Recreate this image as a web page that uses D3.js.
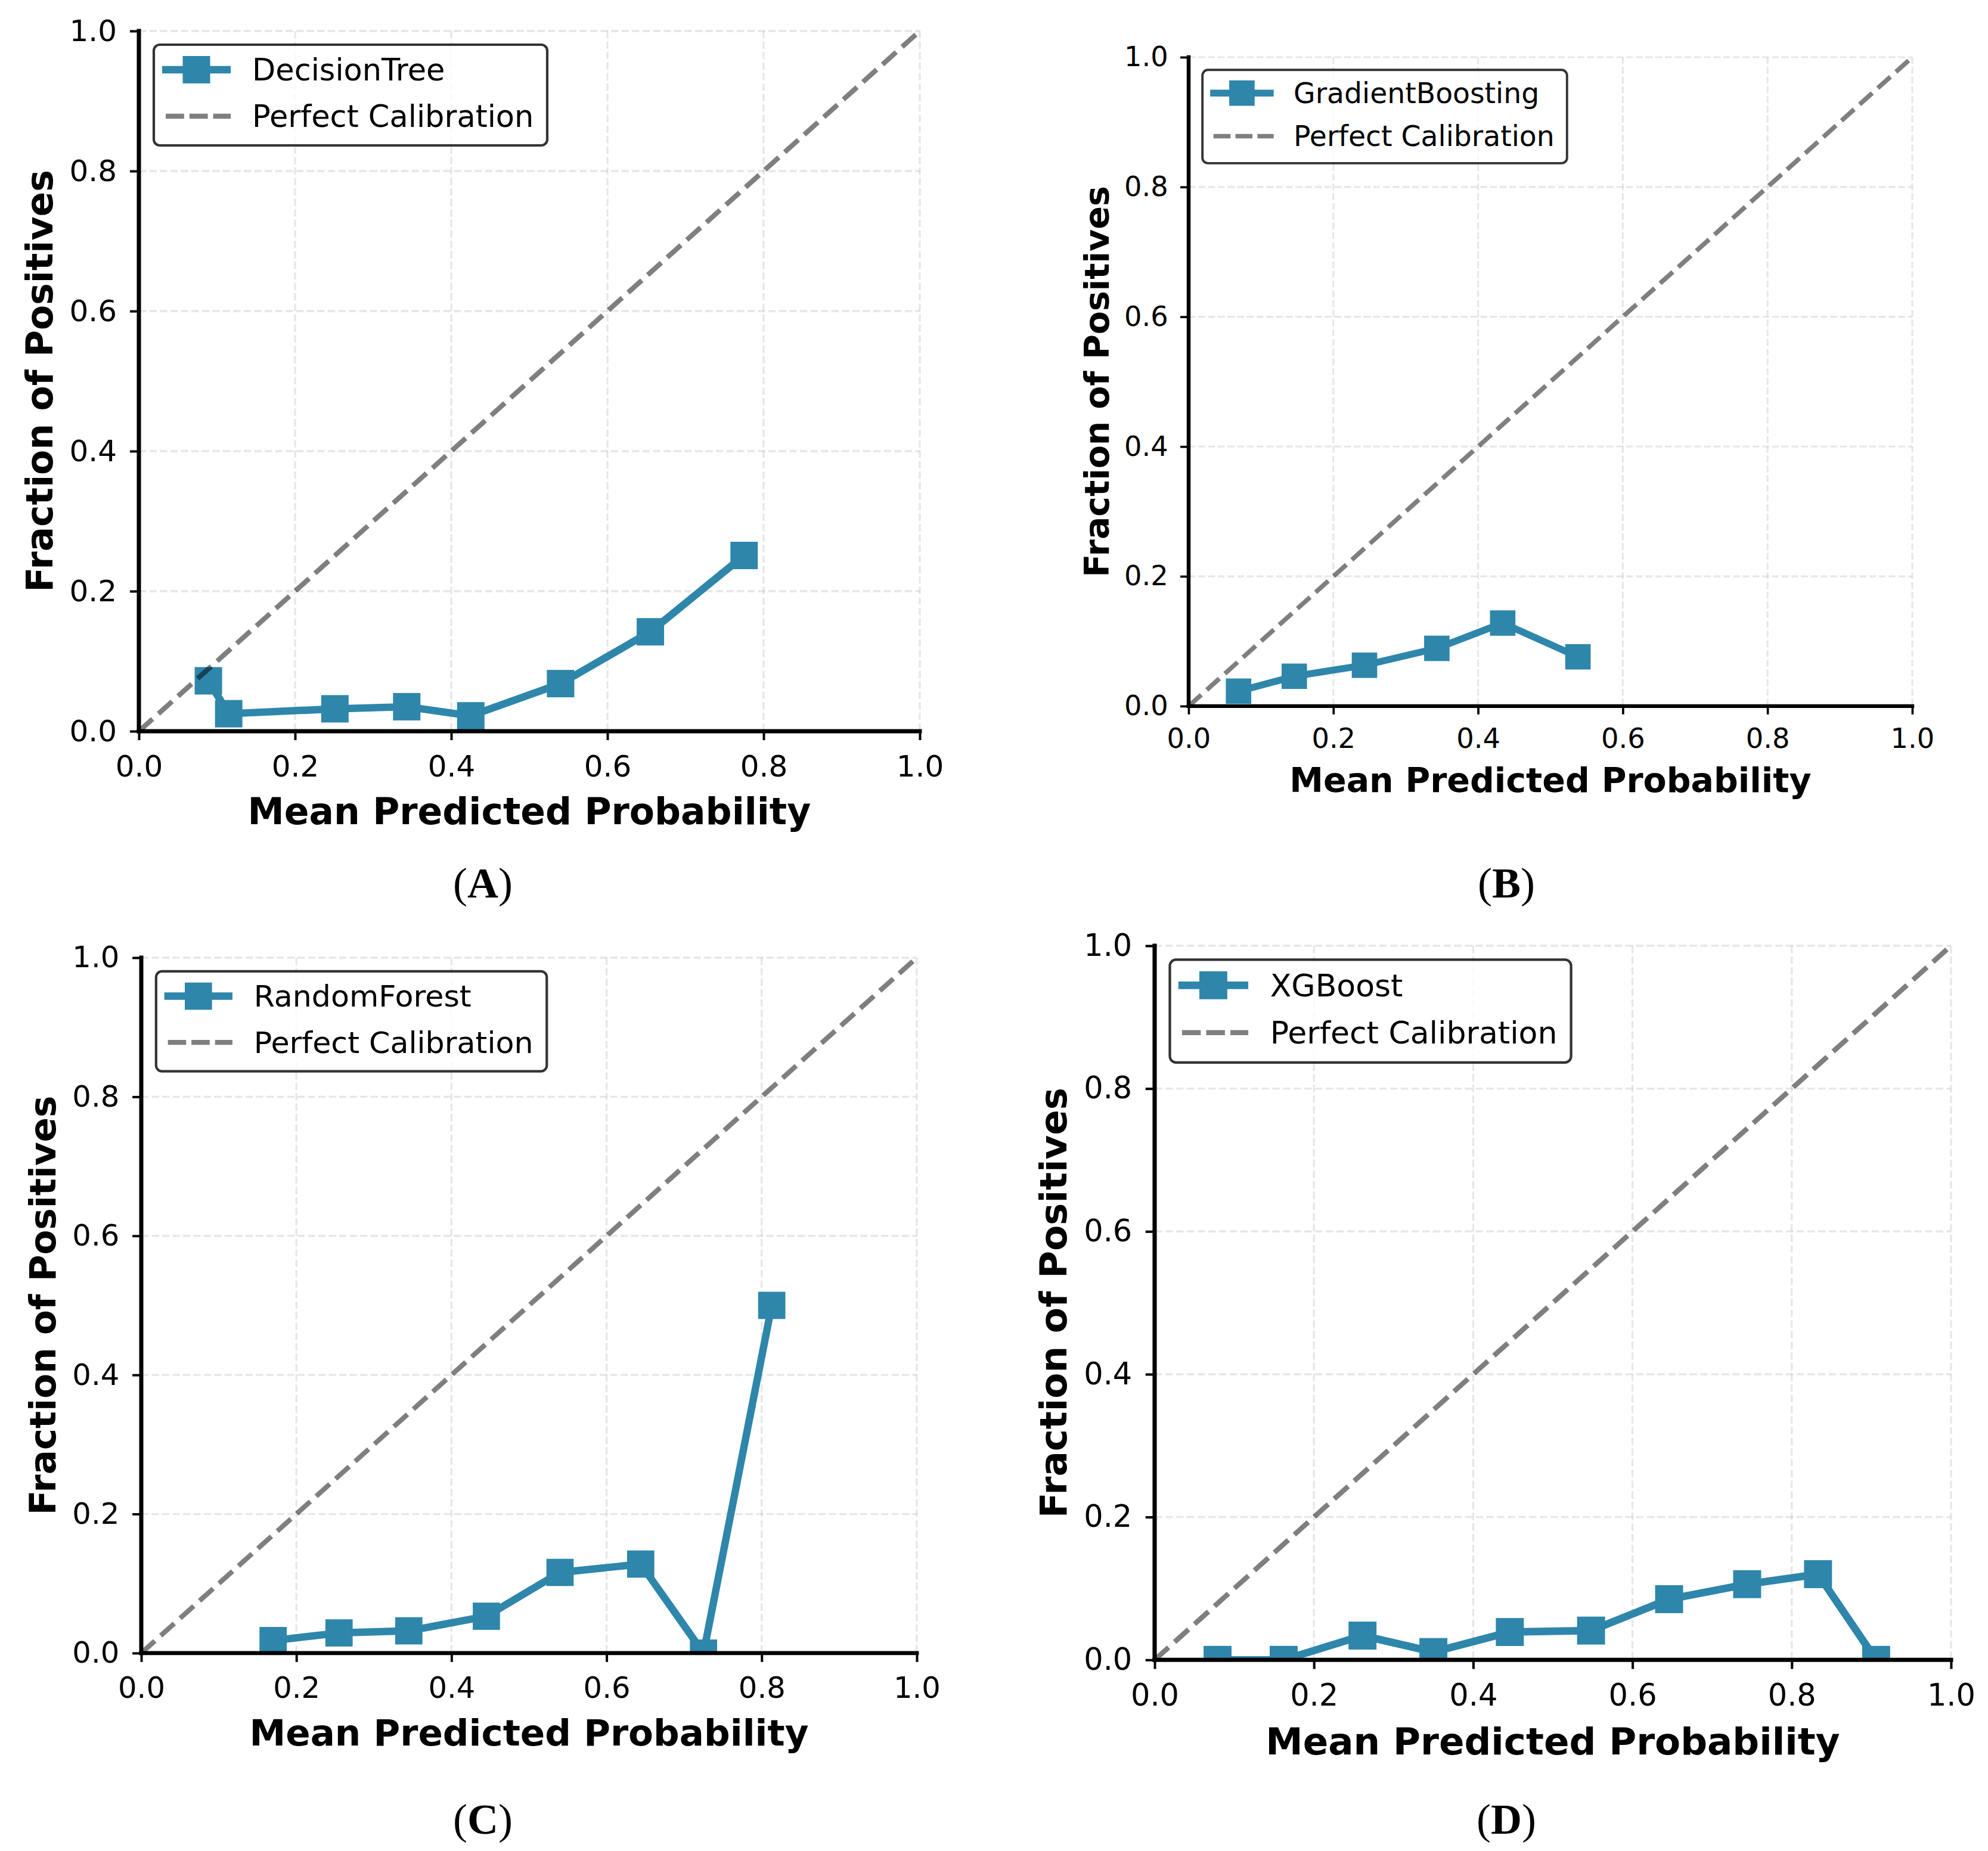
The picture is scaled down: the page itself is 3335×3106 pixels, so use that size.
<!DOCTYPE html>
<html lang="en">
    <head>
        <meta charset="utf-8">
        <title>Calibration Curves</title>
        <script type="text/javascript" src="https://d3js.org/d3.v7.min.js"></script>
        <style type="text/css">
            body {
                margin: 0;
                background: #ffffff;
            }
            .tick text {
                font-family: "DejaVu Sans", sans-serif;
                font-size: 50px;
                fill: #000000;
            }
            .axis-title {
                font-family: "DejaVu Sans", sans-serif;
                font-size: 61.5px;
                font-weight: bold;
                fill: #000000;
            }
            .legend-text {
                font-family: "DejaVu Sans", sans-serif;
                font-size: 51px;
                fill: #000000;
            }
            .caption {
                font-family: "Liberation Serif", "Times New Roman", serif;
                font-size: 72px;
                fill: #000000;
            }
        </style>
    </head>

    <body>
        <script type="text/javascript">

            // page size
            const svgW = 3335;
            const svgH = 3106;

            // data: tick values and calibration bins for each model
            const probTicks = [0, 0.2, 0.4, 0.6, 0.8, 1.0];
            const models = ["DecisionTree", "GradientBoosting", "RandomForest", "XGBoost"];
            const panelLetters = ["A", "B", "C", "D"];
            const refLabel = "Perfect Calibration";

            const dtMeanPred = [0.089, 0.115, 0.251, 0.343, 0.425, 0.540, 0.655, 0.775];
            const dtFracPos  = [0.072, 0.025, 0.032, 0.035, 0.022, 0.068, 0.142, 0.251];

            const gbMeanPred = [0.069, 0.146, 0.243, 0.343, 0.434, 0.538];
            const gbFracPos  = [0.023, 0.046, 0.063, 0.089, 0.128, 0.076];

            const rfMeanPred = [0.170, 0.255, 0.345, 0.445, 0.540, 0.644, 0.725, 0.813];
            const rfFracPos  = [0.018, 0.029, 0.032, 0.053, 0.116, 0.128, 0.000, 0.500];

            const xgbMeanPred = [0.079, 0.162, 0.261, 0.350, 0.446, 0.548, 0.646, 0.744, 0.833, 0.906];
            const xgbFracPos  = [0.000, 0.000, 0.034, 0.011, 0.039, 0.041, 0.085, 0.106, 0.120, 0.000];

            const meanPred = [dtMeanPred, gbMeanPred, rfMeanPred, xgbMeanPred];
            const fracPos = [dtFracPos, gbFracPos, rfFracPos, xgbFracPos];

            // layout: every panel is the same figure, just placed and scaled
            const W = 1310;
            const H = 1175;
            const layout = [
                {left: 233,  top: 52,   k: 1.0,    capX: 810,  capY: 1506},
                {left: 1994, top: 96,   k: 0.9267, capX: 2527, capY: 1506},
                {left: 237,  top: 1607, k: 0.9931, capX: 810,  capY: 3077},
                {left: 1937, top: 1587, k: 1.0198, capX: 2527, capY: 3077}
            ];

            const lineColor = "#2E86AB";
            const markerSize = 46;

            // shared scales (in panel units)
            const xScale = d3.scaleLinear().domain([0, 1]).range([0, W]);
            const yScale = d3.scaleLinear().domain([0, 1]).range([H, 0]);

            const svg = d3.select("body")
                .append("svg")
                .attr("width", svgW)
                .attr("height", svgH);

            svg.append("rect")
                .attr("width", svgW)
                .attr("height", svgH)
                .attr("fill", "#ffffff");

            models.forEach(function(model, i) {
                const pos = layout[i];
                const points = meanPred[i].map((x, j) => ({x: x, y: fracPos[i][j]}));

                const g = svg.append("g")
                    .attr("transform", "translate(" + pos.left + "," + pos.top + ") scale(" + pos.k + ")");

                // clip for the data
                g.append("clipPath")
                    .attr("id", "clip" + i)
                    .append("rect")
                    .attr("width", W)
                    .attr("height", H);

                // grid
                g.selectAll(".vgrid")
                    .data(probTicks)
                    .enter()
                    .append("line")
                    .attr("x1", d => xScale(d))
                    .attr("x2", d => xScale(d))
                    .attr("y1", 0)
                    .attr("y2", H)
                    .attr("stroke", "#b0b0b0")
                    .attr("stroke-opacity", 0.3)
                    .attr("stroke-width", 3.3)
                    .attr("stroke-dasharray", "12.3,5.3");
                g.selectAll(".hgrid")
                    .data(probTicks)
                    .enter()
                    .append("line")
                    .attr("x1", 0)
                    .attr("x2", W)
                    .attr("y1", d => yScale(d))
                    .attr("y2", d => yScale(d))
                    .attr("stroke", "#b0b0b0")
                    .attr("stroke-opacity", 0.3)
                    .attr("stroke-width", 3.3)
                    .attr("stroke-dasharray", "12.3,5.3");

                // calibration curve
                const plot = g.append("g").attr("clip-path", "url(#clip" + i + ")");
                const line = d3.line()
                    .x(d => xScale(d.x))
                    .y(d => yScale(d.y));

                plot.append("path")
                    .datum(points)
                    .attr("d", line)
                    .attr("fill", "none")
                    .attr("stroke", lineColor)
                    .attr("stroke-width", 12.5)
                    .attr("stroke-linejoin", "round")
                    .attr("stroke-linecap", "square");

                plot.selectAll(".marker")
                    .data(points)
                    .enter()
                    .append("rect")
                    .attr("x", d => xScale(d.x) - markerSize / 2)
                    .attr("y", d => yScale(d.y) - markerSize / 2)
                    .attr("width", markerSize)
                    .attr("height", markerSize)
                    .attr("fill", lineColor);

                // perfect calibration diagonal
                plot.append("line")
                    .attr("x1", xScale(0))
                    .attr("y1", yScale(0))
                    .attr("x2", xScale(1))
                    .attr("y2", yScale(1))
                    .attr("stroke", "#000000")
                    .attr("stroke-opacity", 0.5)
                    .attr("stroke-width", 8.3)
                    .attr("stroke-dasharray", "30.8,13.3");

                // axes
                const bottomAxis = d3.axisBottom(xScale)
                    .tickValues(probTicks)
                    .tickFormat(d3.format(".1f"))
                    .tickSize(15)
                    .tickSizeOuter(0)
                    .tickPadding(25);
                const leftAxis = d3.axisLeft(yScale)
                    .tickValues(probTicks)
                    .tickFormat(d3.format(".1f"))
                    .tickSize(15)
                    .tickSizeOuter(0)
                    .tickPadding(22);

                const xg = g.append("g")
                    .attr("transform", "translate(0," + H + ")")
                    .call(bottomAxis);
                const yg = g.append("g")
                    .call(leftAxis);

                [xg, yg].forEach(function(ax) {
                    ax.select(".domain").remove();
                    ax.selectAll(".tick line")
                        .attr("stroke", "#000000")
                        .attr("stroke-width", 4);
                    ax.selectAll(".tick text")
                        .attr("fill", "#000000");
                    ax.attr("font-size", null).attr("font-family", null);
                });

                // spines (left and bottom only)
                g.append("line")
                    .attr("x1", 0).attr("x2", 0)
                    .attr("y1", yScale(0)).attr("y2", yScale(1))
                    .attr("stroke", "#000000")
                    .attr("stroke-width", 7)
                    .attr("stroke-linecap", "square");
                g.append("line")
                    .attr("x1", xScale(0)).attr("x2", xScale(1))
                    .attr("y1", H).attr("y2", H)
                    .attr("stroke", "#000000")
                    .attr("stroke-width", 7)
                    .attr("stroke-linecap", "square");

                // axis titles
                g.append("text")
                    .attr("class", "axis-title")
                    .attr("text-anchor", "middle")
                    .attr("x", W / 2)
                    .attr("y", H + 156)
                    .text("Mean Predicted Probability");
                g.append("text")
                    .attr("class", "axis-title")
                    .attr("text-anchor", "middle")
                    .attr("transform", "translate(-145," + (H / 2) + ") rotate(-90)")
                    .text("Fraction of Positives");

                // legend
                const legend = g.append("g");
                legend.append("rect")
                    .attr("x", 25)
                    .attr("y", 23)
                    .attr("width", 660)
                    .attr("height", 169)
                    .attr("rx", 10)
                    .attr("fill", "#ffffff")
                    .attr("fill-opacity", 0.8)
                    .attr("stroke", "#000000")
                    .attr("stroke-opacity", 0.8)
                    .attr("stroke-width", 4.2);

                legend.append("line")
                    .attr("x1", 39).attr("x2", 154)
                    .attr("y1", 65).attr("y2", 65)
                    .attr("stroke", lineColor)
                    .attr("stroke-width", 12.5);
                legend.append("rect")
                    .attr("x", 96.5 - markerSize / 2)
                    .attr("y", 65 - markerSize / 2)
                    .attr("width", markerSize)
                    .attr("height", markerSize)
                    .attr("fill", lineColor);
                legend.append("text")
                    .attr("class", "legend-text")
                    .attr("x", 190)
                    .attr("y", 83)
                    .text(model);

                legend.append("line")
                    .attr("x1", 45).attr("x2", 154)
                    .attr("y1", 143).attr("y2", 143)
                    .attr("stroke", "#000000")
                    .attr("stroke-opacity", 0.5)
                    .attr("stroke-width", 8.3)
                    .attr("stroke-dasharray", "30.8,9");
                legend.append("text")
                    .attr("class", "legend-text")
                    .attr("x", 190)
                    .attr("y", 161)
                    .text(refLabel);

                // sub-figure caption
                const cap = svg.append("text")
                    .attr("class", "caption")
                    .attr("text-anchor", "middle")
                    .attr("x", pos.capX)
                    .attr("y", pos.capY);
                cap.append("tspan").text("(");
                cap.append("tspan").attr("font-weight", "bold").text(panelLetters[i]);
                cap.append("tspan").text(")");
            });

        </script>
    </body>
</html>
